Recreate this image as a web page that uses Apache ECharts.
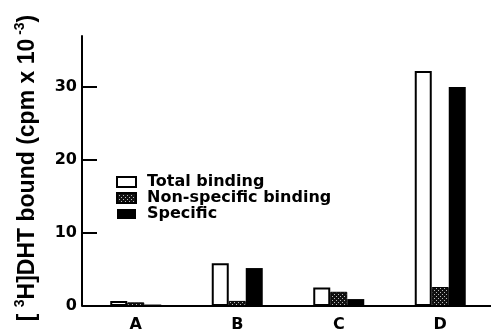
<!DOCTYPE html>
<html>
<head>
<meta charset="utf-8">
<script src="https://cdn.jsdelivr.net/npm/echarts@6/dist/echarts.min.js"></script>
<style>
html, body { margin: 0; padding: 0; background: #fff; }
#chart { width: 491px; height: 334px; }
</style>
</head>
<body>
<div id="chart"></div>
<script>
// sample groups and readings, cpm x 10^-3
var groups = ['A', 'B', 'C', 'D'];
var total = [0.7, 5.85, 2.55, 32.2];
var nonSpecific = [0.5, 0.7, 1.95, 2.6];
var specific = [0.2, 5.2, 0.95, 30.0];
var yTicks = [0, 10, 20, 30];

// dotted fill for the non-specific bars
function dots() {
	var c = document.createElement('canvas');
	c.width = 4; c.height = 4;
	var g = c.getContext('2d');
	g.fillStyle = '#111';
	g.fillRect(0, 0, 4, 4);
	g.fillStyle = '#bbb';
	g.fillRect(0, 0, 1, 1);
	g.fillRect(2, 2, 1, 1);
	return c;
}

var font = 'DejaVu Sans, sans-serif';
var nameFont = 'Liberation Sans, Arial, sans-serif';
var myChart = echarts.init(document.getElementById('chart'));
var option = {
	animation: false,
	grid: { left: 85, right: -3, top: 36, bottom: 28 },
	legend: {
		orient: 'vertical',
		left: 111, top: 169,
		icon: 'rect',
		itemWidth: 19, itemHeight: 10, itemGap: 0,
		textStyle: { fontFamily: font, fontSize: 16, fontWeight: 'bold', color: '#000', lineHeight: 16, padding: [0, 0, 0, 6] },
		data: ['Total binding', 'Non-specific binding', 'Specific']
	},
	xAxis: {
		type: 'category',
		data: groups,
		axisLine: { lineStyle: { color: '#000', width: 2 } },
		axisTick: { show: false },
		axisLabel: { color: '#000', fontFamily: font, fontSize: 16, fontWeight: 'bold', margin: 11 }
	},
	yAxis: {
		type: 'value',
		min: 0, max: 37,
		offset: 3,
		splitLine: { show: false },
		axisLine: { show: true, lineStyle: { color: '#000', width: 2 } },
		axisTick: { show: true, inside: true, length: 15, lineStyle: { width: 2 }, customValues: yTicks },
		axisLabel: { color: '#000', fontFamily: font, fontSize: 16, fontWeight: 'bold', margin: 5, customValues: yTicks },
		name: '{n|[ }{s|3}{n|H]DHT bound (cpm x 10}{s| -3}{n|)}',
		nameLocation: 'middle',
		nameRotate: 90,
		nameGap: 40,
		nameTextStyle: {
			padding: [0, 0, 0, 6],
			rich: {
				n: { fontFamily: nameFont, fontSize: 23, fontWeight: 'bold', color: '#000' },
				s: { fontFamily: nameFont, fontSize: 14, fontWeight: 'bold', color: '#000', verticalAlign: 'top', padding: [0, 0, 15, 0] }
			}
		}
	},
	series: [{
		name: 'Total binding',
		type: 'bar',
		barWidth: 17,
		barGap: '0%',
		data: total,
		itemStyle: { color: '#fff', borderColor: '#000', borderWidth: 2 }
	}, {
		name: 'Non-specific binding',
		type: 'bar',
		barWidth: 17,
		barGap: '0%',
		data: nonSpecific,
		itemStyle: { color: { image: dots(), repeat: 'repeat' }, borderColor: '#000', borderWidth: 1 }
	}, {
		name: 'Specific',
		type: 'bar',
		barWidth: 17,
		barGap: '0%',
		data: specific,
		itemStyle: { color: '#000' }
	}]
};
myChart.setOption(option);
</script>
</body>
</html>
